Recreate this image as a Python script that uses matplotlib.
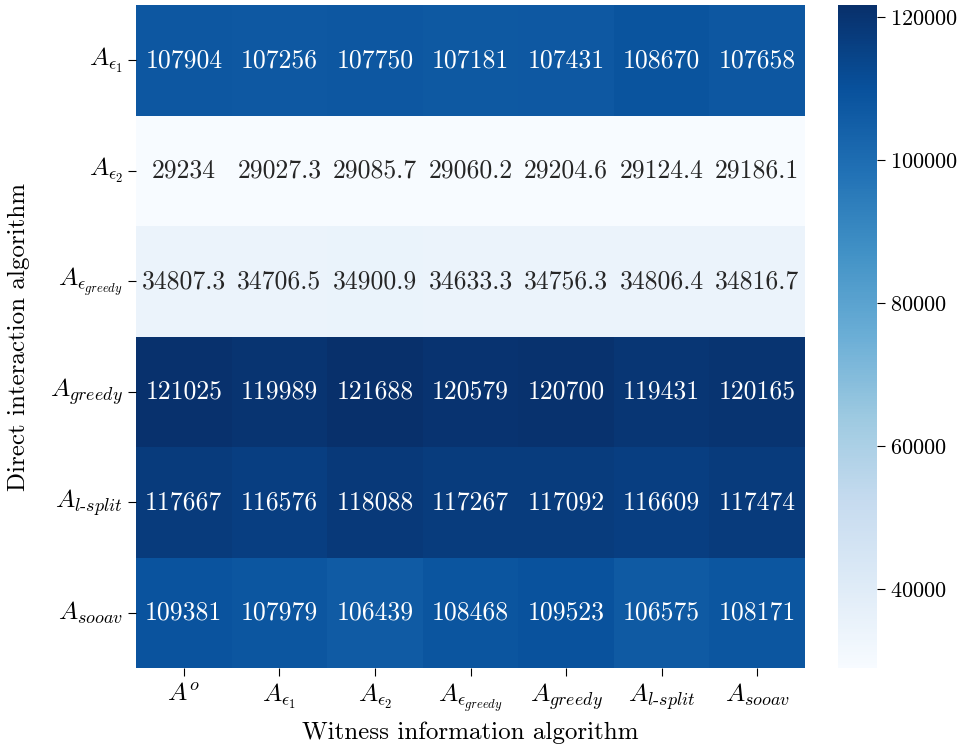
import numpy as np
import matplotlib
matplotlib.use("Agg")
import matplotlib.pyplot as plt
import seaborn as sns

# rows: direct interaction algorithm, cols: witness information algorithm
row_labels = [r"$A_{\epsilon_1}$", r"$A_{\epsilon_2}$", r"$A_{\epsilon_{greedy}}$",
              r"$A_{greedy}$", r"$A_{l\text{-}split}$", r"$A_{sooav}$"]
col_labels = [r"$A^{o}$", r"$A_{\epsilon_1}$", r"$A_{\epsilon_2}$", r"$A_{\epsilon_{greedy}}$",
              r"$A_{greedy}$", r"$A_{l\text{-}split}$", r"$A_{sooav}$"]

vals_eps1 = [107904, 107256, 107750, 107181, 107431, 108670, 107658]
vals_eps2 = [29234, 29027.3, 29085.7, 29060.2, 29204.6, 29124.4, 29186.1]
vals_epsgreedy = [34807.3, 34706.5, 34900.9, 34633.3, 34756.3, 34806.4, 34816.7]
vals_greedy = [121025, 119989, 121688, 120579, 120700, 119431, 120165]
vals_lsplit = [117667, 116576, 118088, 117267, 117092, 116609, 117474]
vals_sooav = [109381, 107979, 106439, 108468, 109523, 106575, 108171]

data = np.array([vals_eps1, vals_eps2, vals_epsgreedy, vals_greedy, vals_lsplit, vals_sooav])

plt.rcParams["font.family"] = "serif"
plt.rcParams["font.serif"] = ["cmr10", "DejaVu Serif"]
plt.rcParams["mathtext.fontset"] = "cm"
plt.rcParams["axes.formatter.use_mathtext"] = True

fig = plt.figure(figsize=(9.73, 7.52), dpi=100)
ax = fig.add_axes([0.1398, 0.1117, 0.6876, 0.8816])
cax = fig.add_axes([0.8613, 0.1117, 0.0401, 0.8816])
sns.heatmap(data, annot=True, fmt="g", cmap="Blues", ax=ax, cbar_ax=cax,
            xticklabels=col_labels, yticklabels=row_labels,
            annot_kws={"fontsize": 18.5})
ax.set_xlabel("Witness information algorithm", fontsize=18)
ax.set_ylabel("Direct interaction algorithm", fontsize=18)
ax.xaxis.set_label_coords(0.5, -0.081)
ax.yaxis.set_label_coords(-0.158, 0.5)
ax.tick_params(axis="both", labelsize=18.5, length=6)
plt.setp(ax.get_yticklabels(), rotation=0)
plt.setp(ax.get_xticklabels(), rotation=0)
cax.tick_params(labelsize=16, length=6)

plt.savefig("out.png", dpi=100)
